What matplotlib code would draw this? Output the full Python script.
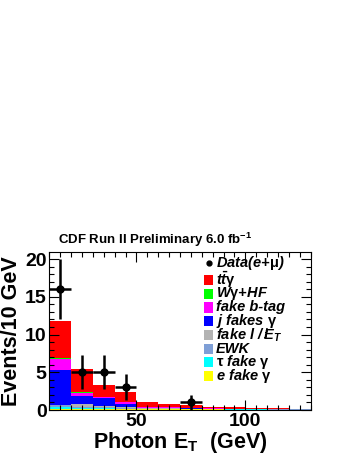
import matplotlib
matplotlib.use("Agg")
import matplotlib.pyplot as plt
import numpy as np
from matplotlib.patches import Rectangle
from matplotlib.ticker import MultipleLocator

plt.rcParams["font.family"] = ["Liberation Sans", "DejaVu Sans"]
plt.rcParams["mathtext.fontset"] = "custom"
plt.rcParams["mathtext.rm"] = "Liberation Sans:bold"
plt.rcParams["mathtext.it"] = "Liberation Sans:bold:italic"
plt.rcParams["mathtext.bf"] = "Liberation Sans:bold"

# ---- data ------------------------------------------------------------------
bin_edges = [10, 20, 30, 40, 50, 60, 70, 80, 90, 100, 110, 120, 130]
e_fake = [0.2, 0.2, 0.15, 0.15, 0.1, 0.1, 0.08, 0.08, 0.06, 0.06, 0.05, 0.05]
tau_fake = [0.2, 0.1, 0.1, 0.05, 0.03, 0.03, 0.02, 0.02, 0.01, 0.01, 0.01, 0.01]
ewk = [0.2, 0.1, 0.1, 0.05, 0.05, 0.05, 0.04, 0.03, 0.02, 0.02, 0.01, 0.01]
fake_l_met = [0.1, 0.4, 0.15, 0.1, 0.05, 0.05, 0.03, 0.02, 0.02, 0.01, 0.01, 0.01]
j_fakes = [4.6, 1.0, 1.1, 0.5, 0.1, 0.1, 0.1, 0.05, 0.05, 0.03, 0.02, 0.01]
fake_btag = [1.5, 0.45, 0.1, 0.2, 0.03, 0.05, 0.03, 0.02, 0.02, 0.02, 0.04, 0.01]
wgamma_hf = [0.1, 0.1, 0.03, 0.03, 0.01, 0.01, 0.005, 0.005, 0.005, 0.005, 0.005, 0.005]
ttgamma = [4.9, 3.1, 1.62, 1.32, 0.63, 0.41, 0.3, 0.23, 0.17, 0.1, 0.06, 0.03]

data_x = [15, 25, 35, 45, 75]
data_y = [16, 5, 5, 3, 1]
data_err = [4.0, 2.24, 2.24, 1.73, 1.0]

stack = [
    (e_fake, "#ffff00", r"$e$ fake $\mathrm{\gamma}$"),
    (tau_fake, "#00ffff", r"$\mathrm{\tau}$ fake $\mathrm{\gamma}$"),
    (ewk, "#7f9fd6", "EWK"),
    (fake_l_met, "#b3b3b3", r"fake $l$ / $\not\!E_{T}$"),
    (j_fakes, "#0000ff", r"$j$ fakes $\mathrm{\gamma}$"),
    (fake_btag, "#ff00ff", "fake b-tag"),
    (wgamma_hf, "#00ff00", r"$W\mathrm{\gamma}$+HF"),
    (ttgamma, "#ff0000", r"$t\bar{t}\mathrm{\gamma}$"),
]

fig = plt.figure(figsize=(3.53, 4.57), dpi=100)
ax = fig.add_axes([0.1397, 0.1028, 0.7406, 0.3452])

edges = np.array(bin_edges)
widths = np.diff(edges)
bottom = np.zeros(len(widths))
for vals, color, _ in stack:
    vals = np.array(vals)
    ax.bar(edges[:-1], vals, width=widths, bottom=bottom, align="edge",
           color=color, linewidth=0)
    bottom += vals

ax.errorbar(data_x, data_y, yerr=data_err, xerr=5, fmt="o", color="black",
            ms=5, elinewidth=1.8, capsize=0, zorder=5)

ax.set_xlim(10, 130)
ax.set_ylim(0, 20.9)
ax.xaxis.set_major_locator(MultipleLocator(50))
ax.xaxis.set_minor_locator(MultipleLocator(5))
ax.yaxis.set_major_locator(MultipleLocator(5))
ax.yaxis.set_minor_locator(MultipleLocator(1))
ax.tick_params(which="both", direction="in", top=True, right=True, width=0.8)
ax.tick_params(which="major", length=7, labelsize=14, pad=2)
ax.tick_params(which="minor", length=3.5)
for lab in ax.get_xticklabels() + ax.get_yticklabels():
    lab.set_fontweight("bold")
for s in ax.spines.values():
    s.set_linewidth(0.8)

ax.set_ylabel("Events/10 GeV", fontsize=15.5, fontweight="bold", labelpad=2)
ax.set_xlabel(r"Photon E$_{\mathrm{T}}$  (GeV)", fontsize=15.5, fontweight="bold",
              labelpad=0)
fig.text(0.44, 0.476, r"CDF Run II Preliminary 6.0 fb$^{\mathrm{-1}}$", ha="center",
         va="center", fontsize=9.5, fontweight="bold")

# legend drawn manually in axes coords
x0, y_data, y_first, dy = 0.592, 0.932, 0.824, 0.087
ax.plot([x0 + 0.018], [y_data], "o", color="black", ms=3.5, transform=ax.transAxes,
        clip_on=False)
ax.text(x0 + 0.046, y_data, r"Data($e$+$\mathrm{\mu}$)", transform=ax.transAxes,
        va="center", fontsize=10.5, fontweight="bold", style="italic")
for i, (_, color, label) in enumerate(stack[::-1]):
    y = y_first - dy * i
    ax.add_patch(Rectangle((x0, y - 0.032), 0.036, 0.064, transform=ax.transAxes,
                           color=color, lw=0, clip_on=False))
    ax.text(x0 + 0.046, y, label, transform=ax.transAxes, va="center",
            fontsize=10.5, fontweight="bold", style="italic")

fig.savefig("out.png", dpi=100)
